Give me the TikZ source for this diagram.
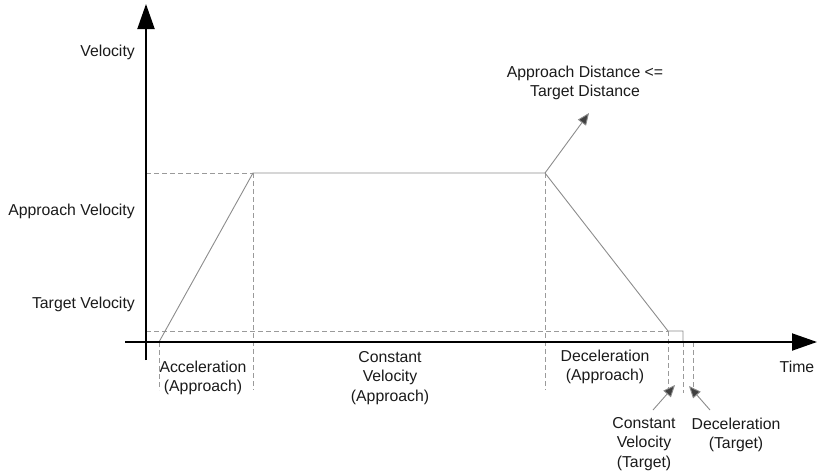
\documentclass[tikz,border=0pt]{standalone}
\usepackage{fontspec}
\setmainfont{Liberation Sans}
\usetikzlibrary{arrows.meta}
\definecolor{prof}{HTML}{8C8C8C}
\definecolor{dsh}{HTML}{9A9A9A}
\definecolor{ptr}{HTML}{404040}
\definecolor{txt}{HTML}{1A1A1A}
\tikzset{
  axis/.style={line width=2pt, -{Triangle[length=25pt,width=17pt]}},
  profile/.style={prof, line width=0.9pt},
  guide/.style={dsh, line width=0.9pt, dash pattern=on 5pt off 3pt},
  pointer/.style={prof, line width=0.9pt, -{Triangle[length=12pt,width=10pt,fill=ptr]}, draw=prof},
  lbl/.style={inner sep=0pt, text=txt, align=center, font=\fontsize{15.8}{19.5}\selectfont}
}
\begin{document}
\begin{tikzpicture}[x=1pt,y=-1pt]
\useasboundingbox (0,0) rectangle (817,472);
% axes
\coordinate (yb) at (146,360);
\coordinate (yt) at (146,4);
\coordinate (xl) at (125,342);
\coordinate (xr) at (817,342);
% profile points
\coordinate (p0) at (159,342);
\coordinate (p1) at (253,173);
\coordinate (p2) at (545,173);
\coordinate (p3) at (668,331);
\coordinate (p4) at (683,331);
\coordinate (p5) at (683,342);
% guide ends
\coordinate (av) at (146,173);
\coordinate (tv) at (146,331);
\coordinate (g0) at (159,390);
\coordinate (g1) at (253,390);
\coordinate (g2) at (545,390);
\coordinate (g3) at (668,390);
\coordinate (g4) at (683,393);
\coordinate (g5a) at (693,342);
\coordinate (g5) at (693,393);
% dashed guides
\draw[guide] (av) -- (p1);
\draw[guide] (tv) -- (p3);
\draw[guide] (p0) -- (g0);
\draw[guide] (p1) -- (g1);
\draw[guide] (p2) -- (g2);
\draw[guide] (p3) -- (g3);
\draw[guide] (p5) -- (g4);
\draw[guide] (g5a) -- (g5);
% profile
\draw[profile] (p0) -- (p1) -- (p2) -- (p3) -- (p4) -- (p5);
% axes
\draw[axis] (yb) -- (yt);
\draw[axis] (xl) -- (xr);
% labels
\node[lbl, anchor=east] (lv) at (135,52) {Velocity};
\node[lbl, anchor=east] (lav) at (135,211) {Approach Velocity};
\node[lbl, anchor=east] (ltv) at (135,304) {Target Velocity};
\node[lbl] (lt) at (797,367) {Time};
\node[lbl] (la) at (203,378) {Acceleration\\(Approach)};
\node[lbl] (lc) at (390,378) {Constant\\Velocity\\(Approach)};
\node[lbl] (ld) at (605,367) {Deceleration\\(Approach)};
\node[lbl] (lad) at (585,83) {Approach Distance <=\\Target Distance};
\node[lbl] (lcvt) at (644,444) {Constant\\Velocity\\(Target)};
\node[lbl] (ldt) at (736,435) {Deceleration\\(Target)};
% pointers
\coordinate (a1) at (589,113);
\coordinate (c1t) at (653,410);
\coordinate (c1h) at (675,385);
\coordinate (d1t) at (710,410);
\coordinate (d1h) at (689,386);
\draw[pointer] (p2) -- (a1);
\draw[pointer] (c1t) -- (c1h);
\draw[pointer] (d1t) -- (d1h);
\end{tikzpicture}
\end{document}
